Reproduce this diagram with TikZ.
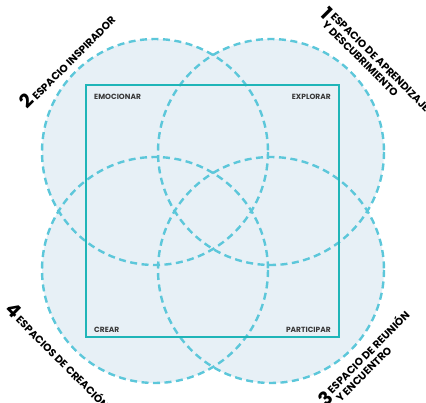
\documentclass[tikz,border=0pt]{standalone}
\usepackage{fontspec}
\setmainfont{Poppins}
\definecolor{zonefill}{HTML}{E7F0F6}
\definecolor{zoneline}{HTML}{5CC7DA}
\definecolor{boxline}{HTML}{1FB5B8}
\definecolor{cornertext}{HTML}{383838}
\newcommand{\spacenum}[1]{{\fontsize{19}{19}\selectfont #1}\hspace{2pt}}

\begin{document}
\begin{tikzpicture}[x=1pt,y=-1pt,
  zone/.style={zoneline,line width=2.4pt,dash pattern=on 7pt off 4.5pt},
  corner/.style={font=\fontsize{7.5}{9}\selectfont\bfseries,text=cornertext,inner sep=0pt},
  spacelabel/.style={font=\fontsize{10.5}{12}\selectfont\bfseries,text=black,inner sep=0pt}]
  \useasboundingbox (0,0) rectangle (426,403);
  % the four spaces
  \foreach \cx/\cy in {155/152,271/152,155/270,271/270}
    \fill[zonefill] (\cx,\cy) circle (113);
  \foreach \cx/\cy in {155/152,271/152,155/270,271/270}
    \draw[zone] (\cx,\cy) circle (113);
  \draw[boxline,line width=1.6pt] (86,85) rectangle (339,337);
  % corner words
  \node[corner,anchor=base west] (emocionar) at (94,99.5) {EMOCIONAR};
  \node[corner,anchor=base east] (explorar) at (331,99.5) {EXPLORAR};
  \node[corner,anchor=base west] (crear) at (94,332.7) {CREAR};
  \node[corner,anchor=base east] (participar) at (331,332.7) {PARTICIPAR};
  % numbered spaces
  \node[spacelabel,rotate=-45] (space1) at (372,64)
    {\spacenum{1}\begin{tabular}{@{}l@{}}ESPACIO DE APRENDIZAJE\\Y DESCUBRIMIENTO\end{tabular}};
  \node[spacelabel,rotate=45] (space2) at (67,60.4)
    {\spacenum{2}ESPACIO INSPIRADOR};
  \node[spacelabel,rotate=45] (space3) at (368.4,362)
    {\spacenum{3}\begin{tabular}{@{}l@{}}ESPACIO DE REUNIÓN\\Y ENCUENTRO\end{tabular}};
  \node[spacelabel,rotate=-45] (space4) at (59.2,355.2)
    {\spacenum{4}ESPACIOS DE CREACIÓN};
\end{tikzpicture}
\end{document}
